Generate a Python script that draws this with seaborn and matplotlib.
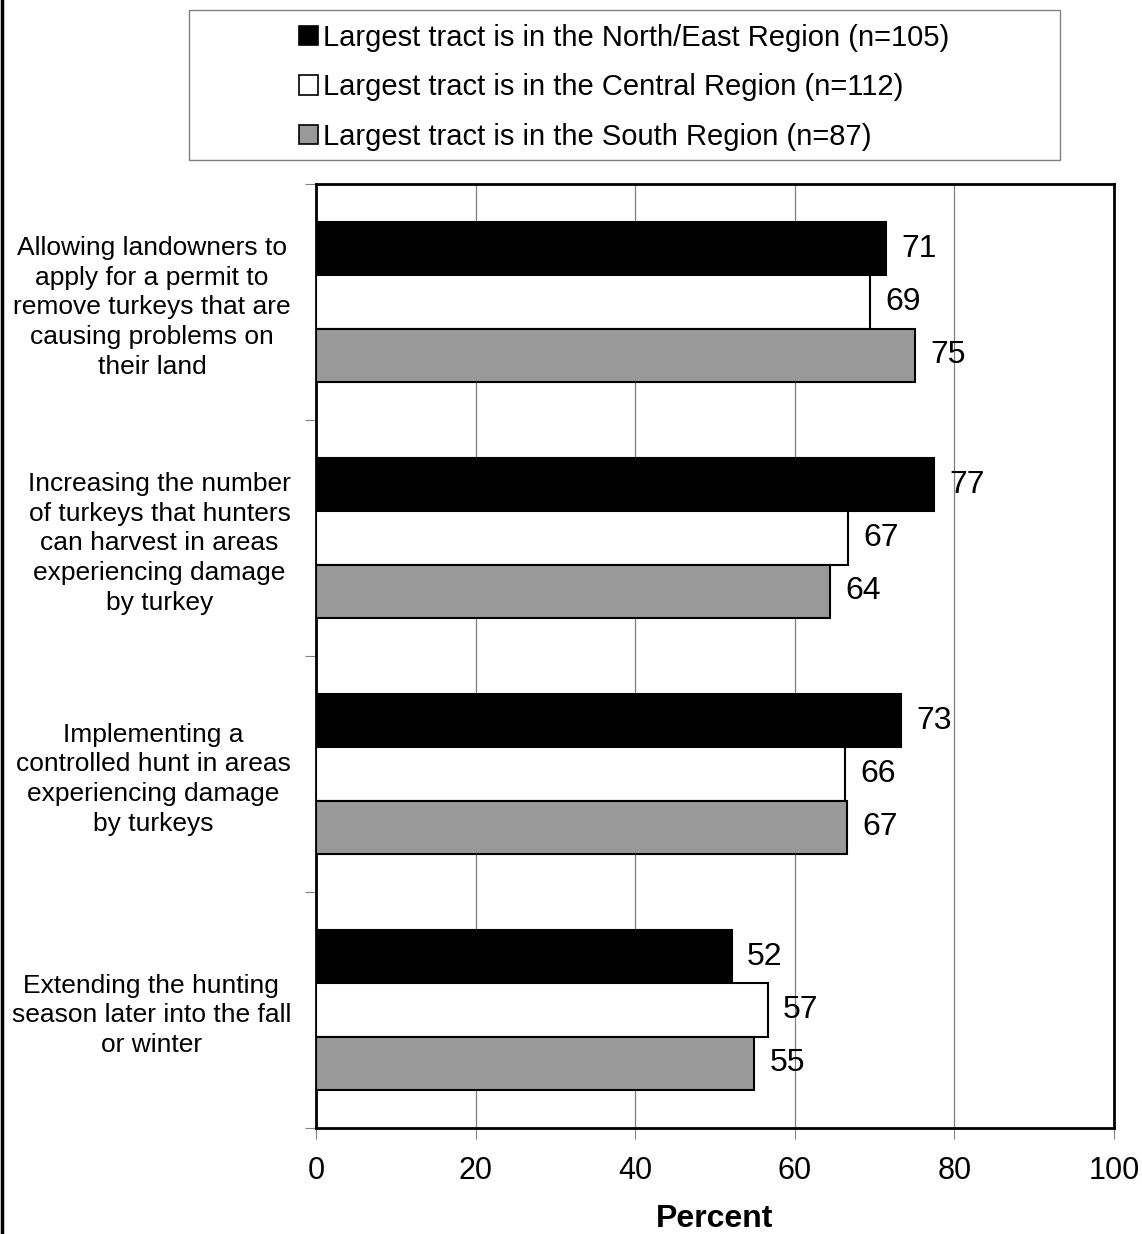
import matplotlib
matplotlib.use("Agg")
import matplotlib.pyplot as plt
from matplotlib.patches import Patch, Rectangle
from matplotlib.lines import Line2D
import pandas as pd
import seaborn as sns

# categories (y axis), wrapped as in the original chart
CATEGORIES = [
    "Allowing landowners to\napply for a permit to\nremove turkeys that are\ncausing problems on\ntheir land",
    "Increasing the number\nof turkeys that hunters\ncan harvest in areas\nexperiencing damage\nby turkey",
    "Implementing a\ncontrolled hunt in areas\nexperiencing damage\nby turkeys",
    "Extending the hunting\nseason later into the fall\nor winter",
]

REGIONS = [
    "Largest tract is in the North/East Region (n=105)",
    "Largest tract is in the Central Region (n=112)",
    "Largest tract is in the South Region (n=87)",
]

# percent values per region, same order as CATEGORIES
NORTH_EAST = [71.4, 77.4, 73.3, 52.1]
CENTRAL = [69.4, 66.7, 66.3, 56.6]
SOUTH = [75.1, 64.4, 66.6, 54.9]

COLORS = ["#000000", "#ffffff", "#999999"]
X_TICKS = [0, 20, 40, 60, 80, 100]

rows = []
for region, values in zip(REGIONS, [NORTH_EAST, CENTRAL, SOUTH]):
    for cat, val in zip(CATEGORIES, values):
        rows.append({"category": cat, "region": region, "percent": val})
df = pd.DataFrame(rows)

sns.set_style("white")
plt.rcParams["font.family"] = ["Liberation Sans", "DejaVu Sans"]
plt.rcParams["text.color"] = "black"
plt.rcParams["axes.labelcolor"] = "black"
plt.rcParams["xtick.labelcolor"] = "black"
plt.rcParams["ytick.labelcolor"] = "black"

fig = plt.figure(figsize=(11.42, 12.34), dpi=100)
ax = fig.add_axes([0.2767, 0.0859, 0.6988, 0.765])

sns.barplot(
    data=df, y="category", x="percent", hue="region",
    order=CATEGORIES, hue_order=REGIONS, palette=COLORS,
    orient="h", width=0.675, edgecolor="black", linewidth=1.5,
    legend=False, ax=ax, zorder=3,
)

for container in ax.containers:
    ax.bar_label(container, fmt="%.0f", padding=11, fontsize=23, color="black")

ax.set_xlim(0, 100)
ax.set_ylim(3.5, -0.5)
ax.set_xticks(X_TICKS)
ax.tick_params(axis="x", labelsize=22, length=8, width=0.8, color="#808080",
               pad=12, bottom=True, direction="out")
ax.grid(axis="x", color="#808080", linewidth=0.9, zorder=0)
ax.set_axisbelow(True)

# category labels at centers, tick marks at boundaries
ax.set_yticks([-0.5, 0.5, 1.5, 2.5, 3.5])
ax.set_yticklabels([])
ax.tick_params(axis="y", which="major", left=True, length=8, width=0.8,
               color="#808080", direction="out")
ax.set_yticks(range(len(CATEGORIES)), minor=True)
ax.set_yticklabels(CATEGORIES, minor=True, fontsize=19,
                   multialignment="center", linespacing=1.3)
ax.tick_params(axis="y", which="minor", length=0, pad=18)

ax.set_ylabel("")
ax.set_xlabel("Percent", fontsize=23, fontweight="bold", labelpad=13)

for spine in ax.spines.values():
    spine.set_visible(True)
    spine.set_color("black")
    spine.set_linewidth(2)

handles = [Patch(facecolor=c, edgecolor="black", linewidth=1.2) for c in COLORS]
fig.legend(handles, REGIONS, loc="center", bbox_to_anchor=(0.5464, 0.9293),
           frameon=False, fontsize=21, handlelength=0.65, handleheight=0.65,
           handletextpad=0.15, labelspacing=0.73)
fig.add_artist(Rectangle((0.1655, 0.8703), 0.7627, 0.1216, transform=fig.transFigure,
                         fill=False, edgecolor="#808080", linewidth=1))
fig.add_artist(Line2D([0.0015, 0.0015], [0, 1], transform=fig.transFigure,
                      color="black", linewidth=2.5))

fig.savefig("out.png", dpi=100)
